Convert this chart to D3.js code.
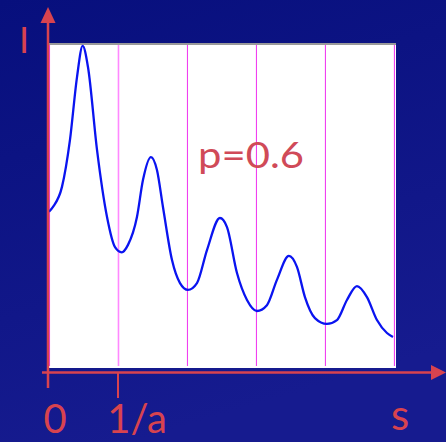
<!DOCTYPE html>
<html>
  <head>
    <meta charset="utf-8">
    <style>
      body { margin: 0; background: #0a1181; }
      svg { display: block; }
    </style>
  </head>
  <body>
    <svg id="chart" width="446" height="442"></svg>
    <script src="https://d3js.org/d3.v7.min.js"></script>
    <script>
      // s in units of 1/a, intensity I normalised to the peak
      sValues = [0.0, 0.058, 0.188, 0.304, 0.406, 0.488, 0.565, 0.696, 0.841, 0.957,
        1.054, 1.145, 1.275, 1.362, 1.478, 1.565, 1.652, 1.783, 1.899, 2.014,
        2.145, 2.290, 2.478, 2.580, 2.725, 2.870, 3.014, 3.159, 3.304, 3.478,
        3.594, 3.710, 3.855, 4.029, 4.174, 4.319, 4.464, 4.609, 4.754, 4.899, 4.986]
      iValues = [0.482, 0.497, 0.559, 0.704, 0.898, 0.994, 0.929, 0.673, 0.466, 0.373,
        0.357, 0.380, 0.466, 0.580, 0.651, 0.611, 0.497, 0.333, 0.262, 0.241,
        0.262, 0.364, 0.463, 0.435, 0.293, 0.210, 0.176, 0.194, 0.272, 0.346,
        0.312, 0.219, 0.154, 0.136, 0.148, 0.210, 0.253, 0.219, 0.148, 0.108, 0.096]
      gridValues = [0, 1, 2, 3, 4, 5]
      tickValues = [0, 1]
      tickLabels = ['0', '1/a']
      axisLabelX = 's'
      axisLabelY = 'I'
      note = 'p=0.6'

      data = sValues.map((s, i) => ({ s: s, v: iValues[i] }))

      width = 446
      height = 442
      plot = { left: 49, right: 396, top: 44, bottom: 368 }
      red = '#d8434f'
      font = 'Lato, "Open Sans", sans-serif'

      xScale = d3.scaleLinear()
        .domain([ 0, 5.03 ])
        .range([ plot.left, plot.right ])
      yScale = d3.scaleLinear()
        .domain([ 0, 1 ])
        .range([ plot.bottom, plot.top ])

      const svg = d3.select('#chart')

      // background gradient
      const grad = svg.append('defs').append('linearGradient')
        .attr('id', 'bg').attr('x1', 0).attr('y1', 0).attr('x2', 0.3).attr('y2', 1)
      grad.append('stop').attr('offset', '0%').attr('stop-color', '#070f7d')
      grad.append('stop').attr('offset', '100%').attr('stop-color', '#161b8f')
      svg.append('rect')
        .attr('width', width).attr('height', height)
        .attr('fill', 'url(#bg)')

      // plot area
      svg.append('rect')
        .attr('x', plot.left).attr('y', plot.top)
        .attr('width', plot.right - plot.left).attr('height', plot.bottom - plot.top)
        .attr('fill', '#ffffff')

      // magenta guide lines at multiples of 1/a
      svg.append('g')
        .selectAll('line')
        .data(gridValues)
        .join('line')
          .attr('x1', d => xScale(d) + 0.5).attr('x2', d => xScale(d) + 0.5)
          .attr('y1', plot.top).attr('y2', plot.bottom - 2)
          .attr('stroke', d => d === 1 ? '#ff88ff' : '#f040f0')
          .attr('stroke-width', d => d === 1 ? 1.6 : 1.1)

      // gray top border
      svg.append('line')
        .attr('x1', plot.left - 1).attr('x2', plot.right)
        .attr('y1', plot.top).attr('y2', plot.top)
        .attr('stroke', '#9a9a9a').attr('stroke-width', 2)

      // the curve
      line = d3.line()
        .x(d => xScale(d.s))
        .y(d => yScale(d.v))
        .curve(d3.curveMonotoneX)
      svg.append('path')
        .datum(data)
        .attr('d', line)
        .attr('fill', 'none')
        .attr('stroke', '#0a14f0')
        .attr('stroke-width', 2.3)
        .attr('stroke-linejoin', 'round')

      // axes
      axisY = plot.bottom + 4.5
      svg.append('line')
        .attr('x1', 48).attr('x2', 48)
        .attr('y1', 20).attr('y2', 388)
        .attr('stroke', red).attr('stroke-width', 2.5)
      svg.append('path')
        .attr('d', 'M48,7 L40.5,23 L55.5,23 Z')
        .attr('fill', red)
      svg.append('line')
        .attr('x1', 42).attr('x2', 434)
        .attr('y1', axisY).attr('y2', axisY)
        .attr('stroke', red).attr('stroke-width', 2.5)
      svg.append('path')
        .attr('d', `M446,${axisY} L431,${axisY - 7.5} L431,${axisY + 7.5} Z`)
        .attr('fill', red)

      // tick at 1/a
      svg.append('line')
        .attr('x1', xScale(1)).attr('x2', xScale(1))
        .attr('y1', axisY).attr('y2', 398)
        .attr('stroke', red).attr('stroke-width', 2)

      // tick labels
      svg.append('g')
        .selectAll('text')
        .data(tickValues)
        .join('text')
          .attr('x', (d, i) => i === 0 ? 55 : 137)
          .attr('y', 433)
          .attr('text-anchor', 'middle')
          .attr('font-family', font)
          .attr('font-size', 40)
          .attr('fill', red)
          .text((d, i) => tickLabels[i])

      svg.append('text')
        .attr('x', 400).attr('y', 430)
        .attr('text-anchor', 'middle')
        .attr('font-family', font).attr('font-size', 42)
        .attr('fill', red)
        .text(axisLabelX)

      svg.append('text')
        .attr('x', 24).attr('y', 53)
        .attr('text-anchor', 'middle')
        .attr('font-family', font).attr('font-size', 36)
        .attr('fill', red)
        .text(axisLabelY)

      svg.append('text')
        .attr('x', 198).attr('y', 168)
        .attr('font-family', font).attr('font-size', 37)
        .attr('textLength', 106)
        .attr('lengthAdjust', 'spacingAndGlyphs')
        .attr('fill', '#d04a58')
        .text(note)
    </script>
  </body>
</html>
